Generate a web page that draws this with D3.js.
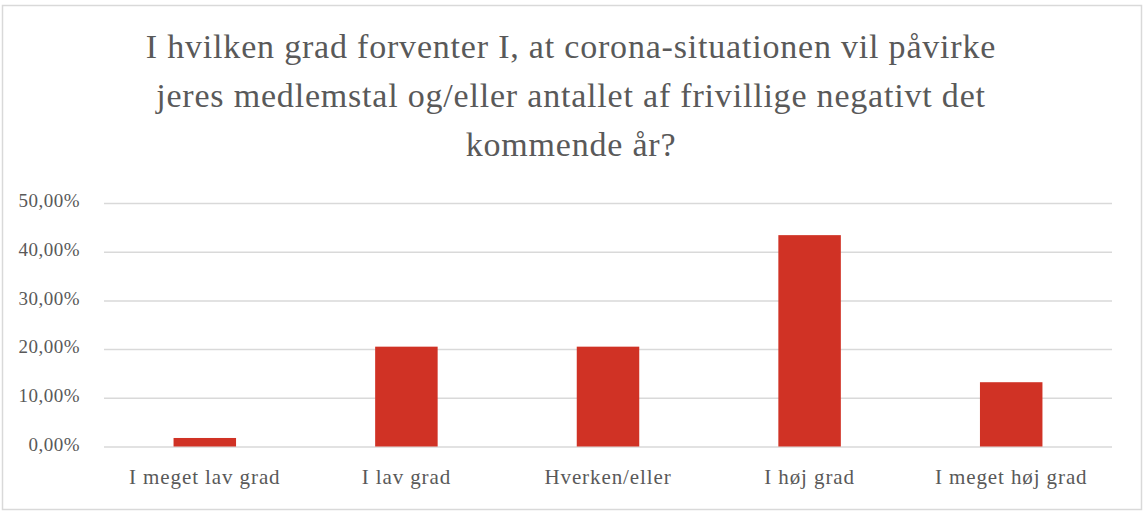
<!DOCTYPE html>
<html>
<head>
	<meta charset="utf-8">
	<title>Corona forventning</title>
	<script src="https://d3js.org/d3.v7.min.js"></script>
	<style>
		body {
		    margin: 0;
		    background: #fff;
		}
		svg text {
		    font-family: "Liberation Serif", "DejaVu Serif", serif;
		    fill: #595959;
		}
	</style>
</head>
<body>
	<script>
		// data
		var categories = ["I meget lav grad", "I lav grad", "Hverken/eller", "I høj grad", "I meget høj grad"];
		var values = [0.0175, 0.205, 0.205, 0.434, 0.132];
		var yTicks = [0, 0.1, 0.2, 0.3, 0.4, 0.5];
		var titleLines = [
		    "I hvilken grad forventer I, at corona-situationen vil påvirke",
		    "jeres medlemstal og/eller antallet af frivillige negativt det",
		    "kommende år?"
		];

		var width = 1145;
		var height = 516;
		var plot = {left: 104, right: 1112, top: 203, bottom: 446.5};

		var svg = d3.select("body")
		    .append("svg")
		    .attr("width", width)
		    .attr("height", height);

		// chart frame
		svg.append("rect")
		    .attr("x", 2.5)
		    .attr("y", 5.5)
		    .attr("width", 1139)
		    .attr("height", 504)
		    .attr("fill", "#fff")
		    .attr("stroke", "#d9d9d9")
		    .attr("stroke-width", 1.5);

		svg.append("g")
		    .selectAll("text")
		    .data(titleLines)
		    .enter()
		    .append("text")
		    .attr("x", 571)
		    .attr("y", function(d, i) { return 58 + i * 49; })
		    .attr("text-anchor", "middle")
		    .attr("font-size", 34)
		    .attr("letter-spacing", 0.8)
		    .text(function(d) { return d; });

		var x = d3.scaleBand()
		    .domain(categories)
		    .range([plot.left, plot.right])
		    .paddingInner(0.69)
		    .paddingOuter(0.345);

		var y = d3.scaleLinear()
		    .domain([0, 0.5])
		    .range([plot.bottom, plot.top]);

		var fmt = function(v) { return d3.format(".2f")(v * 100).replace(".", ",") + "%"; };

		// gridlines + y labels
		var yAxis = svg.append("g")
		    .attr("transform", "translate(" + plot.left + ",0)")
		    .call(d3.axisLeft(y)
		        .tickValues(yTicks)
		        .tickSize(-(plot.right - plot.left))
		        .tickPadding(24)
		        .tickFormat(fmt));
		yAxis.select(".domain").remove();
		yAxis.selectAll(".tick line")
		    .attr("stroke", "#d9d9d9")
		    .attr("stroke-width", 1.5);
		yAxis.selectAll(".tick text")
		    .attr("font-size", 19)
		    .attr("letter-spacing", 0.5)
		    .attr("dy", "0.2em")
		    .attr("fill", "#595959");

		svg.append("g")
		    .selectAll("rect")
		    .data(values)
		    .enter()
		    .append("rect")
		    .attr("x", function(d, i) { return x(categories[i]); })
		    .attr("width", x.bandwidth())
		    .attr("y", function(d) { return y(d); })
		    .attr("height", function(d) { return y(0) - y(d); })
		    .attr("fill", "#d03225");

		var xAxis = svg.append("g")
		    .attr("transform", "translate(0," + plot.bottom + ")")
		    .call(d3.axisBottom(x).tickSize(0).tickPadding(23));
		xAxis.select(".domain").remove();
		xAxis.selectAll(".tick text")
		    .attr("font-size", 21)
		    .attr("letter-spacing", 0.9)
		    .attr("fill", "#595959");
	</script>
</body>
</html>
